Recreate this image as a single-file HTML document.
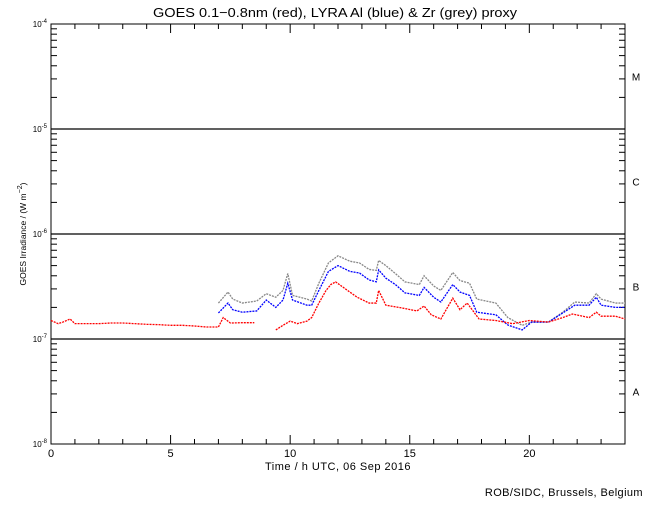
<!DOCTYPE html>
<html><head><meta charset="utf-8"><style>
body{margin:0;background:#fff;}
svg text{font-family:"Liberation Sans",sans-serif;fill:#000;}
</style></head><body>
<svg id="chart" width="650" height="500" xmlns="http://www.w3.org/2000/svg">
<rect width="650" height="500" fill="#fff"/>
<text x="335" y="17" font-size="13" text-anchor="middle" textLength="364" lengthAdjust="spacingAndGlyphs">GOES 0.1−0.8nm (red), LYRA Al (blue) &amp; Zr (grey) proxy</text>
<g id="axes"></g>
<g id="series"></g>
<text x="338" y="470" font-size="11" text-anchor="middle" letter-spacing="0.5">Time / h UTC, 06 Sep 2016</text>
<text transform="translate(26,234) rotate(-90)" font-size="8.5" text-anchor="middle">GOES Irradiance / (W m<tspan dy="-4" font-size="7">−2</tspan><tspan dy="4">)</tspan></text>
<text x="643" y="496" font-size="11" text-anchor="end" letter-spacing="0.4">ROB/SIDC, Brussels, Belgium</text>
</svg>
<script>
// data (hours UTC, irradiance in units of 1e-7 W/m^2)
const redHours1 = [0,0.3,0.5,0.8,1,1.5,2,2.5,3,3.5,4,4.5,5,5.5,6,6.5,7,7.2,7.5,8,8.5];
const redVals1  = [1.5,1.4,1.45,1.55,1.4,1.4,1.4,1.42,1.42,1.4,1.38,1.37,1.35,1.35,1.33,1.3,1.3,1.6,1.42,1.43,1.43];
const redHours2 = [9.4,9.7,10.0,10.3,10.7,10.9,11.2,11.5,11.7,11.9,12.4,12.8,13.3,13.6,13.7,14.0,14.7,15.3,15.6,15.9,16.3,16.8,17.1,17.4,17.9,18.6,19.3,20.0,20.8,21.4,21.8,22.5,22.8,23.0,23.6,24.0];
const redVals2  = [1.22,1.35,1.48,1.4,1.48,1.6,2.2,2.9,3.3,3.5,2.9,2.5,2.2,2.2,2.9,2.1,1.97,1.85,2.06,1.7,1.55,2.45,1.9,2.2,1.55,1.5,1.4,1.5,1.45,1.6,1.73,1.6,1.8,1.65,1.65,1.55];
const blueHours = [7.0,7.4,7.6,8.0,8.6,9.0,9.4,9.7,9.9,10.1,10.7,10.9,11.2,11.6,12.0,12.5,12.9,13.3,13.6,13.7,14.0,14.4,14.8,15.4,15.6,16.0,16.3,16.8,17.1,17.5,17.8,18.6,19.1,19.7,20.1,20.8,21.4,21.9,22.5,22.8,23.0,23.6,24.0];
const blueVals  = [1.77,2.2,1.9,1.8,1.85,2.35,2.0,2.35,3.4,2.35,2.1,2.1,2.9,4.4,5.0,4.4,4.25,3.65,3.5,4.55,3.8,3.3,2.75,2.6,3.1,2.5,2.25,3.3,2.8,2.6,1.8,1.7,1.36,1.22,1.45,1.45,1.77,2.1,2.1,2.5,2.1,2.0,2.0];
const greyHours = [7.0,7.4,7.6,8.0,8.6,9.0,9.4,9.7,9.9,10.1,10.7,10.9,11.2,11.6,12.0,12.5,12.9,13.3,13.6,13.7,14.0,14.4,14.8,15.4,15.6,16.0,16.3,16.8,17.1,17.5,17.8,18.6,19.1,19.7,20.1,20.8,21.4,21.9,22.5,22.8,23.0,23.6,24.0];
const greyVals  = [2.2,2.8,2.4,2.2,2.3,2.7,2.5,2.9,4.2,2.6,2.4,2.3,3.4,5.3,6.2,5.5,5.3,4.6,4.5,5.6,5.0,4.2,3.5,3.3,4.0,3.2,2.9,4.3,3.6,3.4,2.4,2.2,1.6,1.35,1.45,1.45,1.8,2.25,2.2,2.7,2.4,2.2,2.2];
const xTicks = [0,5,10,15,20];
const decades = [-4,-5,-6,-7,-8];
const classes = ['M','C','B','A'];

const X0=51, X1=625, YT=24, YB=444;
const x = h => X0 + h*(X1-X0)/24;
const y = lg => YT + (-4 - lg)*(YB-YT)/4;
const yv = v => y(Math.log10(v*1e-7));
const NS='http://www.w3.org/2000/svg';
function mk(tag, attrs, parent){const e=document.createElementNS(NS,tag);for(const k in attrs)e.setAttribute(k,attrs[k]);parent.appendChild(e);return e;}
const ax=document.getElementById('axes'), se=document.getElementById('series');
const frame=mk('rect',{x:X0,y:YT,width:X1-X0,height:YB-YT,fill:'none',stroke:'#000','stroke-width':1},ax);


for(let h=0;h<=24;h++){
  const L = h%5===0?9:5;
  const t1=mk('line',{x1:x(h),x2:x(h),y1:YB,y2:YB-L,stroke:'#000'},ax);
  
  
  const t2=mk('line',{x1:x(h),x2:x(h),y1:YT,y2:YT+L,stroke:'#000'},ax);
  
  
}
xTicks.forEach(h=>{
  const t=mk('text',{x:x(h),y:457,'font-size':11,'text-anchor':'middle'},ax);
  t.textContent=h;
  
  
});
decades.forEach((d,i)=>{
  const t=mk('text',{x:47,y:y(d)+3,'font-size':8,'text-anchor':'end'},ax);
  t.innerHTML='10<tspan dy="-4" font-size="6">'+d+'</tspan>';
  
  
  if(d<-4 && d>-8){
    const g=mk('line',{x1:X0,x2:X1,y1:y(d),y2:y(d),stroke:'#000','stroke-width':1.3},ax);
    
    
  }
  if(d>-8){
    for(let m=2;m<=9;m++){
      const yy=y(d-1+Math.log10(m));
      const a=mk('line',{x1:X0,x2:X0+6,y1:yy,y2:yy,stroke:'#000'},ax);
      
      
      const b=mk('line',{x1:X1,x2:X1-6,y1:yy,y2:yy,stroke:'#000'},ax);
      
      
    }
  }
});
classes.forEach((c,i)=>{
  const t=mk('text',{x:636,y:y(-4.5-i)+4,'font-size':10,'text-anchor':'middle'},ax);
  t.textContent=c;
  
  
});
function line(hs,vs,color,name){
  const p=mk('polyline',{points:hs.map((h,i)=>x(h)+','+yv(vs[i])).join(' '),fill:'none',stroke:color,'stroke-width':1.3,'stroke-dasharray':'2 1'},se);
  
  
}
line(greyHours,greyVals,'#888','zr-proxy-series');
line(blueHours,blueVals,'#00f','al-proxy-series');
line(redHours1,redVals1,'#f00','goes-series-part1');
line(redHours2,redVals2,'#f00','goes-series-part2');
</script>
</body></html>
